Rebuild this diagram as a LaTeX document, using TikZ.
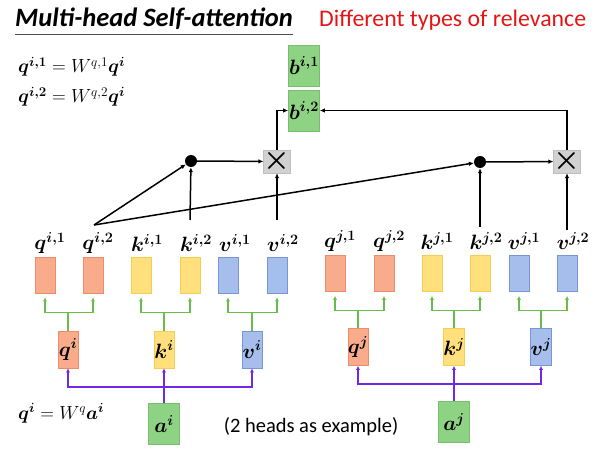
\RequirePackage{fix-cm}
\documentclass[tikz,border=0pt]{standalone}
\usepackage{fontspec}
\setmainfont{Carlito}
\usepackage{amsmath,bm}
\usetikzlibrary{arrows.meta}
\definecolor{qfill}{RGB}{248,172,140}
\definecolor{qline}{RGB}{238,140,105}
\definecolor{kfill}{RGB}{255,224,125}
\definecolor{kline}{RGB}{245,205,80}
\definecolor{vfill}{RGB}{165,190,235}
\definecolor{vline}{RGB}{120,150,215}
\definecolor{gfill}{RGB}{142,210,132}
\definecolor{gline}{RGB}{118,192,108}
\definecolor{garr}{RGB}{105,190,75}
\definecolor{parr}{RGB}{110,40,230}
\definecolor{relred}{RGB}{230,20,20}
\begin{document}
\begin{tikzpicture}[x=1pt,y=-1pt,
  every node/.style={inner sep=0pt},
  headbox/.style={draw,line width=0.6pt,minimum width=20pt,minimum height=36pt},
  vecbox/.style={draw,line width=0.6pt,minimum width=20pt,minimum height=37pt,
    font=\fontsize{20.74}{23}\selectfont},
  outbox/.style={draw=gline,fill=gfill,line width=0.6pt,minimum width=31pt,
    minimum height=41pt,font=\fontsize{20.74}{23}\selectfont},
  qcol/.style={fill=qfill,draw=qline},
  kcol/.style={fill=kfill,draw=kline},
  vcol/.style={fill=vfill,draw=vline},
  lab/.style={font=\fontsize{20.74}{23}\selectfont},
  eqn/.style={font=\fontsize{19}{22}\selectfont},
  dotn/.style={circle,fill=black,minimum size=12pt},
  mulbox/.style={fill=black!18,draw=black!25,minimum size=21pt,
    font=\fontsize{30}{30}\selectfont},
  arr/.style={line width=1.5pt,-{Latex[length=5pt,width=4.5pt]}},
  garrow/.style={garr,line width=1.3pt,-{Latex[length=4pt,width=4pt]},shorten >=4pt},
  parrow/.style={parr,line width=1.6pt,-{Latex[length=4pt,width=4pt]}}]
\useasboundingbox (0,0) rectangle (601,454);
% title
\node[anchor=base west,font=\fontsize{26.5}{30}\selectfont\bfseries\itshape] (title) at (15,27) {Multi-head Self-attention};
\draw[line width=0.8pt,black!70] ([yshift=-7pt]title.base west) -- ([yshift=-7pt]title.base east);
\node[anchor=base west,text=relred,font=\fontsize{23.8}{28}\selectfont] (rel) at (319,27) {Different types of relevance};
\node[eqn,anchor=base west] (eq1) at (18,73) {$\bm{q}^{\bm{i,1}} = W^{q,1}\bm{q}^{\bm{i}}$};
\node[eqn,anchor=base west] (eq2) at (18,103) {$\bm{q}^{\bm{i,2}} = W^{q,2}\bm{q}^{\bm{i}}$};
\node[eqn,anchor=west] (eq3) at (18,413) {$\bm{q}^{\bm{i}} = W^{q}\bm{a}^{\bm{i}}$};
\node[font=\fontsize{20.5}{24}\selectfont] (note) at (311,427) {(2 heads as example)};
% outputs
\node[outbox] (bi1) at (304,65.5) {$\bm{b}^{\bm{i,1}}$};
\node[outbox] (bi2) at (304,110.5) {$\bm{b}^{\bm{i,2}}$};
% token i
\node[outbox] (ai) at (164,424) {$\bm{a}^{\bm{i}}$};
\node[vecbox,qcol] (qi) at (68,349.5) {$\bm{q}^{\bm{i}}$};
\node[vecbox,kcol] (ki) at (164,349.5) {$\bm{k}^{\bm{i}}$};
\node[vecbox,vcol] (vi) at (252,349.5) {$\bm{v}^{\bm{i}}$};
\node[headbox,qcol] (qi1) at (45,275) {};
\node[headbox,qcol] (qi2) at (93,275) {};
\node[headbox,kcol] (ki1) at (141,275) {};
\node[headbox,kcol] (ki2) at (190,275) {};
\node[headbox,vcol] (vi1) at (228,275) {};
\node[headbox,vcol] (vi2) at (277,275) {};
\node[lab] (qi1l) at (50,243) {$\bm{q}^{\bm{i,1}}$};
\node[lab] (qi2l) at (98,243) {$\bm{q}^{\bm{i,2}}$};
\node[lab] (ki1l) at (147,243) {$\bm{k}^{\bm{i,1}}$};
\node[lab] (ki2l) at (196,243) {$\bm{k}^{\bm{i,2}}$};
\node[lab] (vi1l) at (235,243) {$\bm{v}^{\bm{i,1}}$};
\node[lab] (vi2l) at (283,243) {$\bm{v}^{\bm{i,2}}$};
% token j
\node[outbox] (aj) at (454,422) {$\bm{a}^{\bm{j}}$};
\node[vecbox,qcol] (qj) at (358,347) {$\bm{q}^{\bm{j}}$};
\node[vecbox,kcol] (kj) at (454,347) {$\bm{k}^{\bm{j}}$};
\node[vecbox,vcol] (vj) at (541,347) {$\bm{v}^{\bm{j}}$};
\node[headbox,qcol] (qj1) at (335,273.5) {};
\node[headbox,qcol] (qj2) at (384,273.5) {};
\node[headbox,kcol] (kj1) at (432,273.5) {};
\node[headbox,kcol] (kj2) at (480,273.5) {};
\node[headbox,vcol] (vj1) at (519,273.5) {};
\node[headbox,vcol] (vj2) at (567,273.5) {};
\node[lab] (qj1l) at (340,241) {$\bm{q}^{\bm{j,1}}$};
\node[lab] (qj2l) at (389,241) {$\bm{q}^{\bm{j,2}}$};
\node[lab] (kj1l) at (437,241) {$\bm{k}^{\bm{j,1}}$};
\node[lab] (kj2l) at (486,241) {$\bm{k}^{\bm{j,2}}$};
\node[lab] (vj1l) at (524,241) {$\bm{v}^{\bm{j,1}}$};
\node[lab] (vj2l) at (573,241) {$\bm{v}^{\bm{j,2}}$};
% attention for head 2
\node[dotn] (di) at (191,161) {};
\node[mulbox] (mi) at (277,161.5) {$\bm{\times}$};
\node[dotn] (dj) at (480,162) {};
\node[mulbox] (mj) at (567,161.5) {$\bm{\times}$};
\coordinate (qtop) at (94,225);
\coordinate (ktop) at (190,220);
\coordinate (vtop) at (277,220);
\coordinate (kjtop) at (480,227);
\coordinate (vjtop) at (567,230);
% purple
\coordinate (pi) at (164,387);
\coordinate (pj) at (454,384);
\draw[parrow] (ai.north) -- (ki.south);
\draw[parrow] (pi) -| (qi.south);
\draw[parrow] (pi) -| (vi.south);
\draw[parrow] (aj.north) -- (kj.south);
\draw[parrow] (pj) -| (qj.south);
\draw[parrow] (pj) -| (vj.south);
% green
\foreach \v/\a/\b in {qi/qi1/qi2,ki/ki1/ki2,vi/vi1/vi2,qj/qj1/qj2,kj/kj1/kj2,vj/vj1/vj2}{
  \draw[garrow] (\v.north) -- ++(0,-18) -| (\a.south);
  \draw[garrow] (\v.north) -- ++(0,-18) -| (\b.south);
}
% black
\draw[arr] (qtop) -- (di);
\draw[arr] (qtop) -- (dj);
\draw[arr] (ktop) -- (di);
\draw[arr] (vtop) -- (mi);
\draw[arr] (di) -- (mi);
\draw[arr] (mi.north) |- (bi2.west);
\draw[arr] (kjtop) -- (dj);
\draw[arr] (vjtop) -- (mj);
\draw[arr] (dj) -- (mj);
\draw[arr] (mj.north) |- (bi2.east);
\end{tikzpicture}
\end{document}
